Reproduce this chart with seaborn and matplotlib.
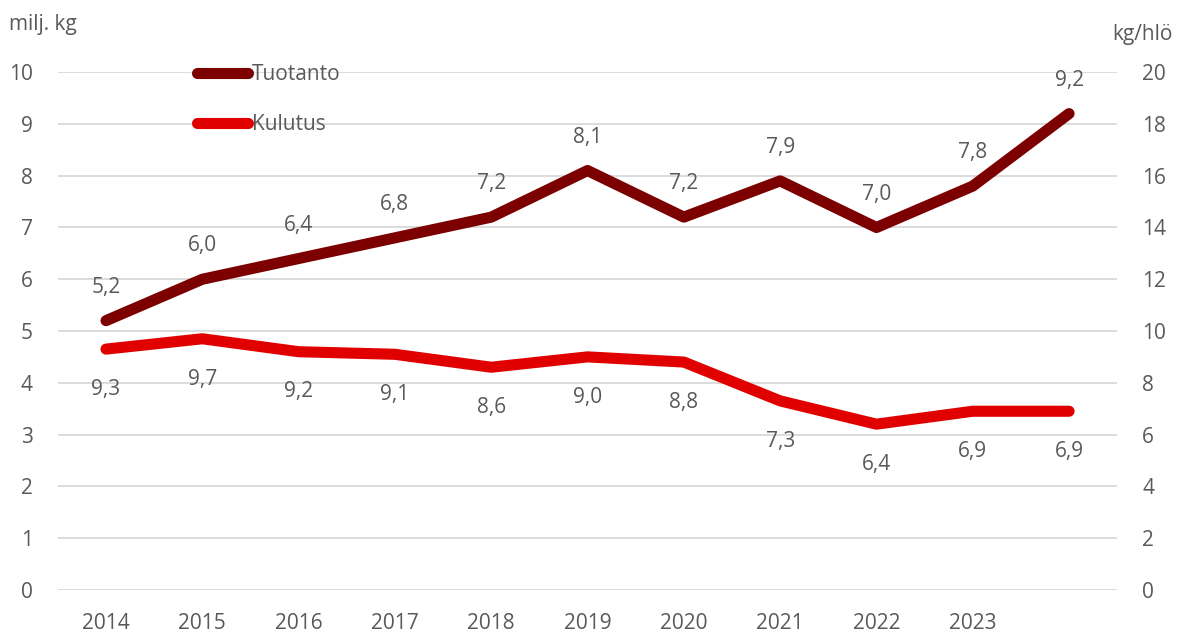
import matplotlib
matplotlib.use("Agg")
import matplotlib.pyplot as plt
import seaborn as sns
import pandas as pd
from matplotlib.lines import Line2D

# Data
years = ["2014", "2015", "2016", "2017", "2018", "2019", "2020", "2021", "2022", "2023", ""]
tuotanto = [5.2, 6.0, 6.4, 6.8, 7.2, 8.1, 7.2, 7.9, 7.0, 7.8, 9.2]   # milj. kg
kulutus = [9.3, 9.7, 9.2, 9.1, 8.6, 9.0, 8.8, 7.3, 6.4, 6.9, 6.9]    # kg/hlö

left_ticks = list(range(0, 11))
right_ticks = list(range(0, 21, 2))

sns.set_theme(style="white")
plt.rcParams["font.family"] = ["Open Sans", "DejaVu Sans"]

TEXT = "#595959"
GRID = "#d9d9d9"
C_TUO = "#7c0000"
C_KUL = "#e00000"
FS = 15
LW = 8.0

df = pd.DataFrame({"pos": range(len(years)), "tuotanto": tuotanto, "kulutus": kulutus})

fig = plt.figure(figsize=(11.81, 6.39), dpi=100)
ax = fig.add_axes([0.049, 0.077, 0.897, 0.81])
ax2 = ax.twinx()

sns.lineplot(data=df, x="pos", y="tuotanto", ax=ax, color=C_TUO, linewidth=LW,
             solid_capstyle="round", solid_joinstyle="round", legend=False, zorder=3)
sns.lineplot(data=df, x="pos", y="kulutus", ax=ax2, color=C_KUL, linewidth=LW,
             solid_capstyle="round", solid_joinstyle="round", legend=False, zorder=3)

ax.set_ylim(0, 10)
ax2.set_ylim(0, 20)
ax.set_xlim(-0.5, len(years) - 0.5)
ax.set_yticks(left_ticks)
ax2.set_yticks(right_ticks)
ax.set_xticks(df["pos"])
ax.set_xticklabels(years)

ax.grid(False)
ax2.grid(False)
for t in left_ticks:
    ax.axhline(t, color=GRID, linewidth=1.3, zorder=0)

for a in (ax, ax2):
    for s in a.spines.values():
        s.set_visible(False)
    a.set_xlabel("")
    a.set_ylabel("")
    a.tick_params(axis="both", length=0, labelsize=FS, labelcolor=TEXT)
ax.tick_params(axis="y", pad=18)
ax2.tick_params(axis="y", pad=18)
ax.tick_params(axis="x", pad=17)

def fmt(v):
    return f"{v:.1f}".replace(".", ",")

for i, v in enumerate(tuotanto):
    ax.annotate(fmt(v), (i, v), xytext=(0, 24), textcoords="offset points",
                ha="center", va="center", fontsize=FS, color=TEXT)
for i, v in enumerate(kulutus):
    ax2.annotate(fmt(v), (i, v), xytext=(0, -29), textcoords="offset points",
                 ha="center", va="center", fontsize=FS, color=TEXT)

fig.text(0.008, 0.962, "milj. kg", fontsize=FS, color=TEXT, ha="left", va="center")
fig.text(0.993, 0.946, "kg/hlö", fontsize=FS, color=TEXT, ha="right", va="center")

handles = [Line2D([], [], color=C_TUO, linewidth=LW, solid_capstyle="round"),
           Line2D([], [], color=C_KUL, linewidth=LW, solid_capstyle="round")]
leg = ax2.legend(handles, ["Tuotanto", "Kulutus"], loc="upper left",
                 bbox_to_anchor=(0.114, 1.052), frameon=False, fontsize=FS,
                 handlelength=2.45, handletextpad=0.15, labelspacing=1.4)
for t in leg.get_texts():
    t.set_color(TEXT)

fig.savefig("out.png", dpi=100)
